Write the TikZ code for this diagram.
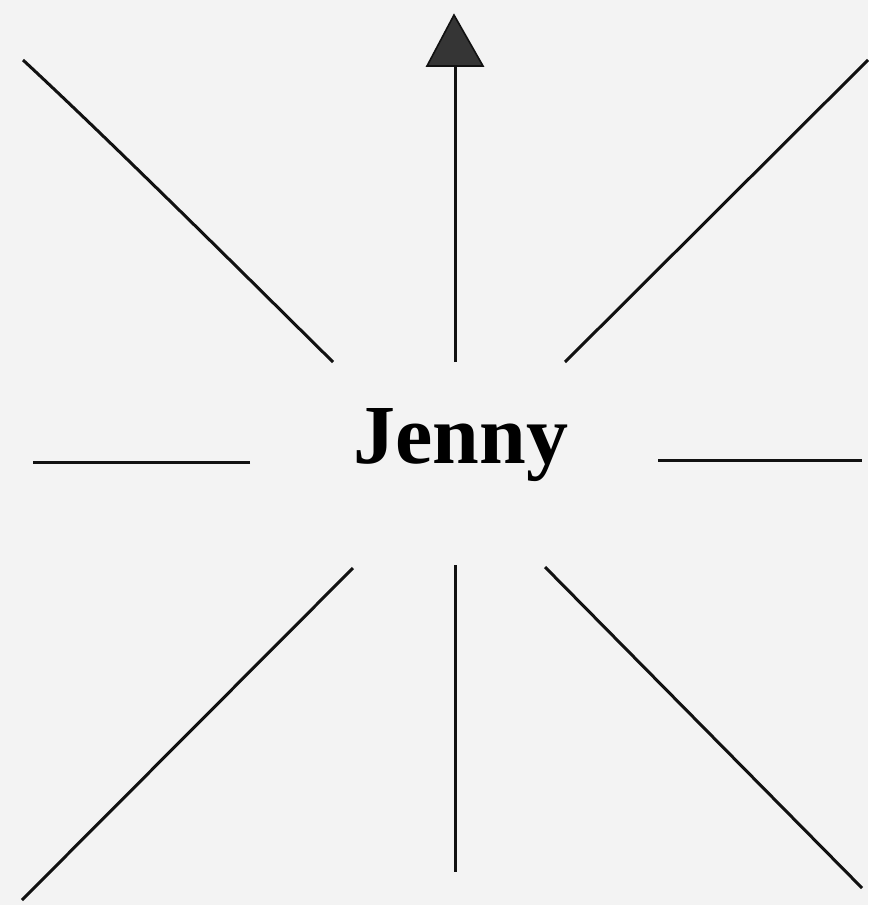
\documentclass[tikz,border=0pt]{standalone}
\usepackage{fontspec}
\setmainfont{Liberation Serif}
\definecolor{bg}{HTML}{F3F3F3}
\definecolor{ink}{HTML}{111111}
\begin{document}
\begin{tikzpicture}[x=0.5pt,y=-0.5pt,
  ray/.style={draw=ink,line width=1.5pt},
  tip/.style={fill=ink!85!white,draw=ink,line width=0.8pt}]
\fill[bg] (0,0) rectangle (868,905);
\useasboundingbox (0,0) rectangle (868,905);
\node[font=\bfseries\fontsize{42}{42}\selectfont,inner sep=0pt,anchor=base] (jenny) at (461,463) {Jenny};
% connector ends
\coordinate (ulA) at (333,362); \coordinate (ulB) at (23,60);
\coordinate (upA) at (455,362); \coordinate (upB) at (455,66);
\coordinate (urA) at (565,362); \coordinate (urB) at (868,60);
\coordinate (lA) at (250,462); \coordinate (lB) at (33,462);
\coordinate (rA) at (658,460); \coordinate (rB) at (862,460);
\coordinate (dlA) at (353,568); \coordinate (dlB) at (22,900);
\coordinate (dA) at (455,565); \coordinate (dB) at (455,872);
\coordinate (drA) at (545,567); \coordinate (drB) at (862,888);
\draw[ray] (ulA) .. controls (260,290) and (120,150) .. (ulB);
\draw[ray] (upA) -- (upB);
\coordinate (tipT) at (454,15);
\coordinate (tipL) at (427,66);
\coordinate (tipR) at (483,66);
\filldraw[tip] (tipT) -- (tipR) -- (tipL) -- cycle;
\draw[ray] (urA) -- (urB);
\draw[ray] (lA) -- (lB);
\draw[ray] (rA) -- (rB);
\draw[ray] (dlA) -- (dlB);
\draw[ray] (dA) -- (dB);
\draw[ray] (drA) -- (drB);
\end{tikzpicture}
\end{document}
